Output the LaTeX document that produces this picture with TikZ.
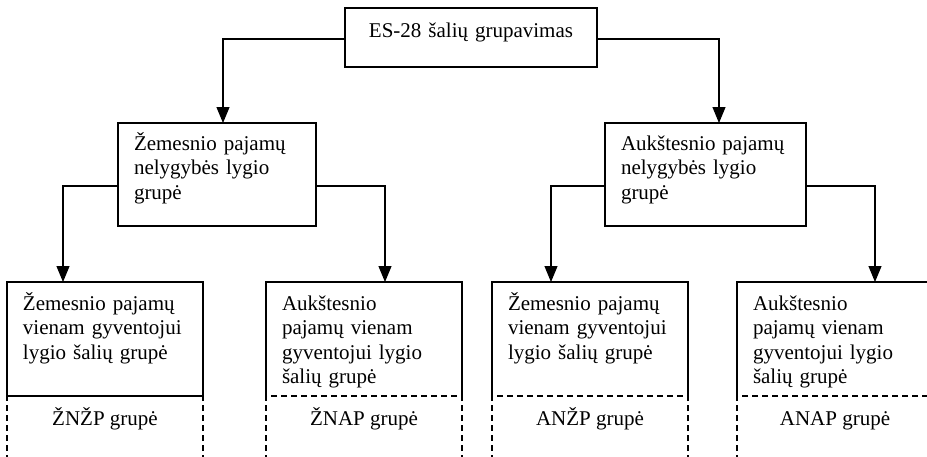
\documentclass[tikz,border=0pt]{standalone}
\usepackage{fontspec}
\setmainfont{Liberation Serif}
\usetikzlibrary{arrows.meta}

\begin{document}
\begin{tikzpicture}[
            x=1pt, y=1pt,
            line width=1.1pt,
            >={Triangle[length=16pt,width=13pt]},
            font=\fontsize{21}{24.5}\selectfont,
            box/.style={rectangle, inner xsep=16pt, inner ysep=0pt,
                        outer sep=0pt, align=left, anchor=north west},
            leaf/.style={box, text width=164pt,
                         text height=28pt, text depth=86pt},
            tag/.style={draw, dashed, dash pattern=on 6pt off 4pt,
                        rectangle, inner sep=0pt, outer sep=0pt,
                        anchor=north, minimum width=196pt,
                        text height=29pt, text depth=60pt}
        ]

        % Page frame
        \useasboundingbox (0,0) rectangle (927,-456);
        \clip (0,0) rectangle (927,-456);

        % Root
        \node[draw, box, align=center, text width=220pt,
              text height=29pt, text depth=30pt]
            (groups) at (345,-8) {ES-28 šalių grupavimas};

        % Inequality level
        \node[draw, box, text width=166pt, text height=27pt, text depth=76pt]
            (lowIneq) at (118,-123)
            {Žemesnio pajamų\\ nelygybės lygio\\ grupė};
        \node[draw, box, text width=169pt, text height=27pt, text depth=76pt]
            (highIneq) at (605,-123)
            {Aukštesnio pajamų\\ nelygybės lygio\\ grupė};

        % Income level
        \node[draw, leaf] (lowLow) at (7,-282)
            {Žemesnio pajamų\\ vienam gyventojui\\ lygio šalių grupė};
        \node[leaf] (lowHigh) at (266,-282)
            {Aukštesnio\\ pajamų vienam\\ gyventojui lygio\\ šalių grupė};
        \node[leaf] (highLow) at (492,-282)
            {Žemesnio pajamų\\ vienam gyventojui\\ lygio šalių grupė};
        \node[leaf] (highHigh) at (737,-282)
            {Aukštesnio\\ pajamų vienam\\ gyventojui lygio\\ šalių grupė};

        % Open bottom: the dashed part closes these
        \foreach \n in {lowHigh,highLow,highHigh}
            \draw (\n.south west) |- (\n.north east) -- (\n.south east);

        % Dashed group codes
        \node[tag] (tagLL) at (lowLow.south) {ŽNŽP grupė};
        \node[tag] (tagLH) at (lowHigh.south) {ŽNAP grupė};
        \node[tag] (tagHL) at (highLow.south) {ANŽP grupė};
        \node[tag] (tagHH) at (highHigh.south) {ANAP grupė};

        % Arrows from the root
        \draw[->] ([yshift=-1.5pt]groups.west) -| ([xshift=6pt]lowIneq.north);
        \draw[->] ([yshift=-1.5pt]groups.east) -| ([xshift=13.5pt]highIneq.north);

        % Arrows to the income groups
        \draw[->] ([yshift=-11.5pt]lowIneq.west) -| ([xshift=-42pt]lowLow.north);
        \draw[->] ([yshift=-11.5pt]lowIneq.east) -| ([xshift=21pt]lowHigh.north);
        \draw[->] ([yshift=-11.5pt]highIneq.west) -| ([xshift=-39pt]highLow.north);
        \draw[->] ([yshift=-11.5pt]highIneq.east) -| ([xshift=40pt]highHigh.north);

        \end{tikzpicture}
\end{document}
